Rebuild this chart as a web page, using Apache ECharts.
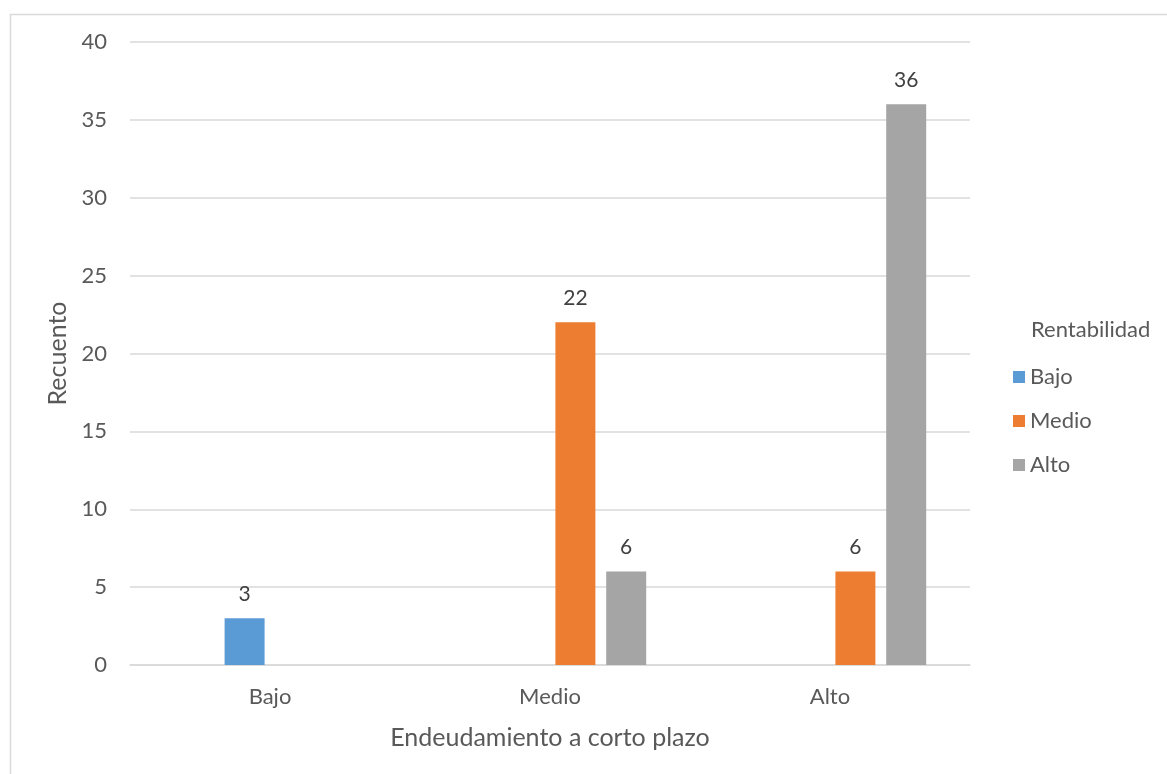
<!DOCTYPE html>
<html>
<head>
<meta charset="utf-8">
<script src="https://cdn.jsdelivr.net/npm/echarts@6/dist/echarts.min.js"></script>
<style>
  html, body { margin: 0; padding: 0; background: #fff; }
  #chart { width: 1167px; height: 774px; }
</style>
</head>
<body>
<div id="chart"></div>
<script>
const categories = ['Bajo', 'Medio', 'Alto']
const seriesNames = ['Bajo', 'Medio', 'Alto']
const bajoValues = [3, null, null]
const medioValues = [null, 22, 6]
const altoValues = [null, 6, 36]
const yTicks = [0, 5, 10, 15, 20, 25, 30, 35, 40]

const font = 'Lato, "Open Sans", sans-serif'
const textColor = '#595959'
const colors = ['#5B9BD5', '#ED7D31', '#A5A5A5']

const chart = echarts.init(document.getElementById('chart'))

const barBase = {
  type: 'bar',
  barWidth: 40,
  barGap: '27%',
  label: {
    show: true,
    position: 'top',
    distance: 14,
    color: '#404040',
    fontSize: 21,
    fontFamily: font
  }
}

const option = {
  animation: false,
  textStyle: { fontFamily: font },
  graphic: [
    {
      type: 'rect',
      left: 8,
      top: 12,
      shape: { width: 1180, height: 800 },
      style: { fill: 'none', stroke: '#d9d9d9', lineWidth: 1.5 },
      silent: true
    }
  ],
  title: {
    text: 'Rentabilidad',
    left: 1031,
    top: 319,
    padding: 0,
    textStyle: { color: textColor, fontSize: 22, lineHeight: 22, fontWeight: 'normal', fontFamily: font }
  },
  legend: {
    orient: 'vertical',
    left: 1013,
    top: 366,
    padding: 0,
    itemWidth: 12,
    itemHeight: 12,
    itemGap: 22,
    icon: 'rect',
    data: seriesNames,
    textStyle: { color: textColor, fontSize: 22, lineHeight: 22, fontFamily: font }
  },
  grid: {
    left: 130,
    right: 197,
    top: 42,
    bottom: 109
  },
  xAxis: {
    type: 'category',
    data: categories,
    name: 'Endeudamiento a corto plazo',
    nameLocation: 'middle',
    nameGap: 60,
    nameTextStyle: { color: textColor, fontSize: 25, fontFamily: font },
    axisLine: { lineStyle: { color: '#d9d9d9', width: 1.5 } },
    axisTick: { show: false },
    axisLabel: { color: textColor, fontSize: 22, margin: 21, fontFamily: font }
  },
  yAxis: {
    type: 'value',
    min: yTicks[0],
    max: yTicks[yTicks.length - 1],
    interval: 5,
    name: 'Recuento',
    nameLocation: 'middle',
    nameGap: 57,
    nameTextStyle: { color: textColor, fontSize: 25, fontFamily: font },
    axisLine: { show: false },
    axisTick: { show: false },
    axisLabel: { color: textColor, fontSize: 22, margin: 23, fontFamily: font },
    splitLine: { lineStyle: { color: '#d9d9d9', width: 1.5 } }
  },
  series: [
    // empty slot so the groups sit where the original leaves them
    { ...barBase, name: '', data: [null, null, null], label: { show: false } },
    { ...barBase, name: seriesNames[0], data: bajoValues, itemStyle: { color: colors[0] } },
    { ...barBase, name: seriesNames[1], data: medioValues, itemStyle: { color: colors[1] } },
    { ...barBase, name: seriesNames[2], data: altoValues, itemStyle: { color: colors[2] } }
  ]
}

chart.setOption(option)
</script>
</body>
</html>
